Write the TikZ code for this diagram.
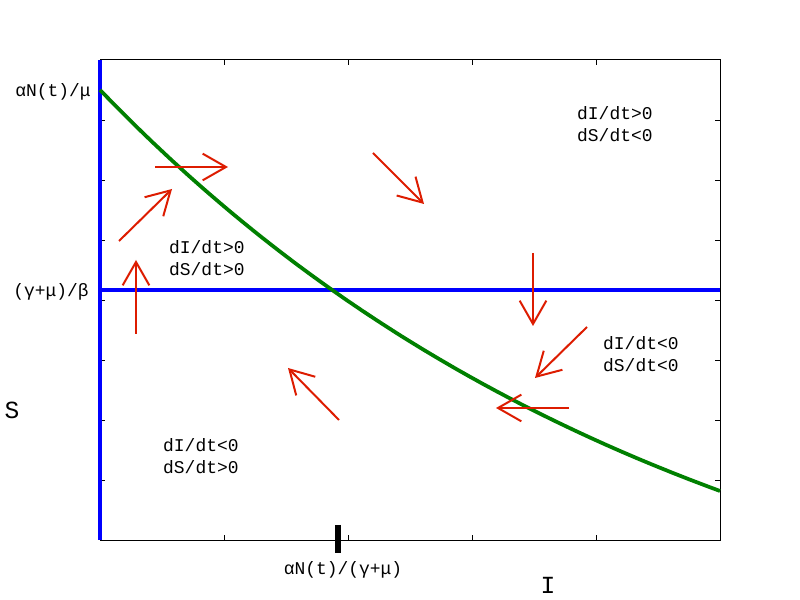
\documentclass[tikz,border=0pt]{standalone}
\usepackage{fontspec}
\setmainfont{Liberation Mono}
\usetikzlibrary{arrows.meta}
\definecolor{nullBlue}{RGB}{0,0,255}
\definecolor{nullGreen}{RGB}{0,128,0}
\definecolor{flowRed}{HTML}{DD1C00}

\begin{document}
\begin{tikzpicture}[x=0.03cm, y=-0.03cm,
  lbl/.style={font=\fontsize{15.3}{18.8}\selectfont, inner sep=0pt},
  region/.style={lbl, anchor=west, align=left},
  axname/.style={font=\fontsize{21}{24}\selectfont, inner sep=0pt},
  tickmark/.style={line width=0.6pt},
  nullcline/.style={line width=3.2pt},
  flow/.style={flowRed, line width=1.7pt,
    -{Straight Barb[length=7mm, width=8mm, line width=1.7pt]}},
]
  \useasboundingbox[fill=white] (0,0) rectangle (800,600);

  % axes frame and ticks
  \draw[line width=0.85pt] (100,60) rectangle (720,540);
  \foreach \ty in {120,180,...,480} {
    \draw[tickmark] (100,\ty) -- ++(5,0);
    \draw[tickmark] (720,\ty) -- ++(-5,0);
  }
  \foreach \tx in {224,348,472,596} {
    \draw[tickmark] (\tx,540) -- ++(0,-5);
    \draw[tickmark] (\tx,60) -- ++(0,5);
  }

  % nullclines
  \draw[nullcline, nullBlue] (100,60) -- (100,540);
  \draw[nullcline, nullBlue] (100,290) -- (720,290);
  \draw[nullcline, nullGreen] plot[domain=0:620, samples=120]
    ({100+\x}, {540-(620*exp(-0.00168*\x)-170)});

  % direction field
  \foreach \xa/\ya/\xb/\yb in {155/167/228/167, 119/241/172/189, 136/334/136/260,
      373/153/424/204, 533/253/533/326, 587/327/535/378,
      569/408/496/408, 339/420/288/368}
    \draw[flow] (\xa,\ya) -- (\xb,\yb);

  % equilibrium mark on I axis
  \draw[line width=4.5pt] (338,525) -- (338,553);

  % axis labels
  \node[lbl, anchor=east] (sTop) at (91,92) {αN(t)/μ};
  \node[lbl, anchor=east] (sMid) at (89,292) {(γ+μ)/β};
  \node[lbl] (iMid) at (343,570) {αN(t)/(γ+μ)};
  \node[axname] (sName) at (12,410) {S};
  \node[axname] (iName) at (548,585) {I};

  % regions
  \node[region] (rTR) at (577,124) {dI/dt>0\\dS/dt<0};
  \node[region] (rTL) at (169,258) {dI/dt>0\\dS/dt>0};
  \node[region] (rBR) at (603,354) {dI/dt<0\\dS/dt<0};
  \node[region] (rBL) at (163,456) {dI/dt<0\\dS/dt>0};
\end{tikzpicture}
\end{document}
